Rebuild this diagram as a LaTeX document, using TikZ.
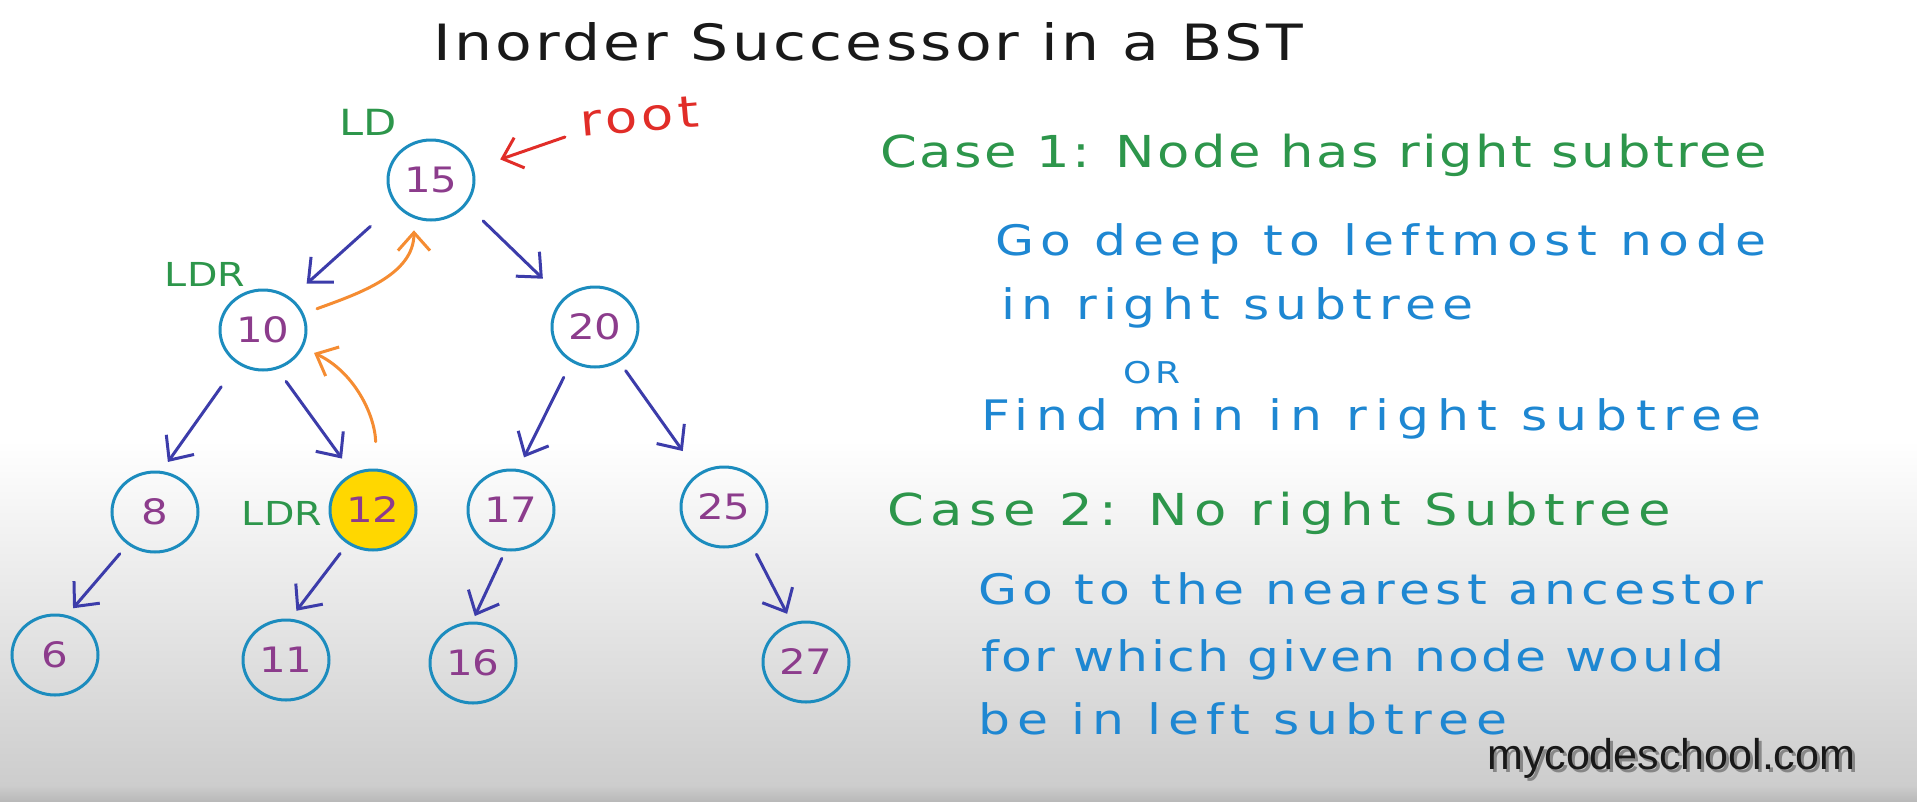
\documentclass[tikz,border=0pt]{standalone}
\usepackage{fontspec}
\usetikzlibrary{shapes.geometric,arrows.meta}
\newfontfamily\hand[FakeStretch=1.2]{DejaVu Sans}
\newfontfamily\wmfont{Liberation Sans}
\definecolor{nodeblue}{RGB}{28,140,190}
\definecolor{numpurple}{RGB}{140,60,140}
\definecolor{edgeblue}{RGB}{60,60,170}
\definecolor{hgreen}{RGB}{45,150,75}
\definecolor{hblue}{RGB}{30,135,210}
\definecolor{hred}{RGB}{225,45,40}
\definecolor{horange}{RGB}{245,140,50}
\definecolor{hyellow}{RGB}{255,215,0}
\definecolor{bggrey}{RGB}{205,205,205}
\definecolor{bgdark}{RGB}{185,185,185}
\newcommand\hw[3]{{\hand\fontsize{#1}{#1}\selectfont\addfontfeatures{LetterSpace=#2}#3}}
\begin{document}
\begin{tikzpicture}[x=1pt,y=1pt,
  bst/.style={ellipse, draw=nodeblue, line width=3pt, minimum width=86pt, minimum height=80pt, inner sep=0pt, text=numpurple, font={\hand\fontsize{35}{35}\selectfont}},
  txt/.style={anchor=base west, inner sep=0pt},
  lbl/.style={inner sep=0pt, text=hgreen},
  edgearr/.style={draw=edgeblue, line width=3pt, line cap=round, -{Straight Barb[length=19pt,width=34pt]}},
  orarr/.style={draw=horange, line width=3pt, line cap=round, -{Straight Barb[length=18pt,width=32pt]}},
  redarr/.style={draw=hred, line width=3pt, line cap=round, -{Straight Barb[length=18pt,width=32pt]}}
]
\useasboundingbox (0,0) rectangle (1917,-801);
% background
\fill[white] (0,0) rectangle (1917,-440);
\shade[top color=white, bottom color=bggrey] (0,-440) rectangle (1917,-785);
\shade[top color=bggrey, bottom color=bgdark] (0,-785) rectangle (1917,-801);

% title
\node[txt, text=black!90] (title) at (433,-60) {\hw{50}{6.5}{Inorder Successor in a BST}};

% tree nodes
\node[bst] (n15) at (431,-180) {15};
\node[bst] (n10) at (263,-330) {10};
\node[bst] (n20) at (595,-327) {20};
\node[bst] (n8)  at (155,-512) {8};
\node[bst, fill=hyellow] (n12) at (373,-510) {12};
\node[bst] (n17) at (511,-510) {17};
\node[bst] (n25) at (724,-507) {25};
\node[bst] (n6)  at (55,-655) {6};
\node[bst] (n11) at (286,-660) {11};
\node[bst] (n16) at (473,-663) {16};
\node[bst] (n27) at (806,-662) {27};

% labels
\node[lbl] (ld) at (368,-122) {\hw{36}{0}{LD}};
\node[lbl] (ldr10) at (205,-274) {\hw{33}{0}{LDR}};
\node[lbl] (ldr12) at (282,-513) {\hw{33}{0}{LDR}};
\node[txt, text=hred, rotate=5] (root) at (581,-137) {\hw{44}{10}{root}};

% tree edges
\draw[edgearr, shorten <=33pt, shorten >=21pt] (n15.-146) -- (n10.49.5);
\draw[edgearr, shorten <=23pt, shorten >=28pt] (n15.-35) -- (n20.138);
\draw[edgearr, shorten <=28pt, shorten >=11pt] (n10.-127) -- (n8.81);
\draw[edgearr, shorten <=15pt, shorten >=18pt] (n10.-70) -- (n12.119);
\draw[edgearr, shorten <=17pt, shorten >=13pt] (n20.-124) -- (n17.80);
\draw[edgearr, shorten <=11pt, shorten >=27pt] (n20.-55) -- (n25.127);
\draw[edgearr, shorten <=12pt, shorten >=9pt] (n8.-130) -- (n6.73);
\draw[edgearr, shorten <=12pt, shorten >=10pt] (n12.-127) -- (n11.84);
\draw[edgearr, shorten <=8pt, shorten >=6pt] (n17.-98) -- (n16.91);
\draw[edgearr, shorten <=15pt, shorten >=10pt] (n25.-53) -- (n27.110);

% orange successor arrows
\draw[orarr, shorten <=14pt, shorten >=12pt] (n10.22) to[out=20,in=-90] (n15.-114);
\draw[orarr, shorten <=27pt, shorten >=12pt] (n12.85) to[out=92,in=-25] (n10.-24);

% root pointer
\draw[redarr, shorten >=28pt] ([xshift=-16pt]root.base west) -- (n15.15);

% right-hand text
\node[txt, text=hgreen] (case1) at (880,-167) {\hw{44}{5.7}{Case 1: Node has right subtree}};
\node[txt, text=hblue] (c1a) at (995,-255) {\hw{42}{15.9}{Go deep to leftmost node}};
\node[txt, text=hblue] (c1b) at (1001,-319) {\hw{42}{15.5}{in right subtree}};
\node[txt, text=hblue] (c1or) at (1123,-383) {\hw{30}{12}{OR}};
\node[txt, text=hblue] (c1c) at (981,-430) {\hw{42}{19.3}{Find min in right subtree}};
\node[txt, text=hgreen] (case2) at (887,-525) {\hw{44}{15}{Case 2: No right Subtree}};
\node[txt, text=hblue] (c2a) at (978,-604) {\hw{42}{12.3}{Go to the nearest ancestor}};
\node[txt, text=hblue] (c2b) at (981,-671) {\hw{42}{5.5}{for which given node would}};
\node[txt, text=hblue] (c2c) at (978,-734) {\hw{42}{16.8}{be in left subtree}};

% watermark
\node[txt, text=black, opacity=0.35] (wmsh) at (1490,-772) {\wmfont\fontsize{43}{43}\selectfont mycodeschool.com};
\node[txt, text=black!90] (wm) at (1487,-769) {\wmfont\fontsize{43}{43}\selectfont mycodeschool.com};
\end{tikzpicture}
\end{document}
